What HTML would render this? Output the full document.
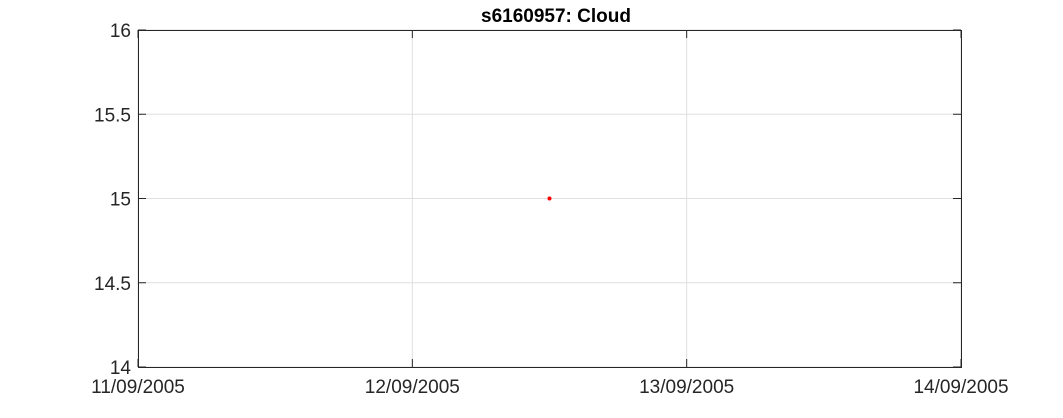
<!DOCTYPE html>
<html><head><meta charset="utf-8"><style>
html,body{margin:0;padding:0;background:#fff;}
svg text{font-family:"Liberation Sans",Arial,sans-serif;}
</style></head><body>
<svg id="chart" width="1063" height="413" xmlns="http://www.w3.org/2000/svg">
<rect width="1063" height="413" fill="#fff"/>
<text x="556" y="22" text-anchor="middle" font-size="19" font-weight="bold" fill="#000">s6160957: Cloud</text>
<g id="grid"></g>
<g id="axes"></g>
<g id="marks"></g>
</svg>
<script>
const xTickDays = [0, 1, 2, 3];
const xTickLabels = ["11/09/2005", "12/09/2005", "13/09/2005", "14/09/2005"];
const yTicks = [14, 14.5, 15, 15.5, 16];
const yTickLabels = ["14", "14.5", "15", "15.5", "16"];
const pointDays = [1.5];
const pointValues = [15];

const L = 138, R = 961, T = 30, B = 367;
const xMin = 0, xMax = 3, yMin = 14, yMax = 16;
const xs = d => L + (d - xMin) / (xMax - xMin) * (R - L);
const ys = v => B - (v - yMin) / (yMax - yMin) * (B - T);
const NS = "http://www.w3.org/2000/svg";
function mk(tag, attrs, parent) {
  const e = document.createElementNS(NS, tag);
  for (const k in attrs) e.setAttribute(k, attrs[k]);
  parent.appendChild(e);
  return e;
}
const grid = document.getElementById('grid');
const axes = document.getElementById('axes');
const marks = document.getElementById('marks');

xTickDays.forEach((d, i) => {
  const x = xs(d);
  const g = mk('line', {x1: x, x2: x, y1: T, y2: B, stroke: '#dfdfdf', 'stroke-width': 1}, grid);
  
  
  const t1 = mk('line', {x1: x, x2: x, y1: B, y2: B - 8, stroke: '#262626', 'stroke-width': 1}, axes);
  
  
  const t2 = mk('line', {x1: x, x2: x, y1: T, y2: T + 8, stroke: '#262626', 'stroke-width': 1}, axes);
  
  
  const lb = mk('text', {x: x, y: B + 26, 'text-anchor': 'middle', 'font-size': 19, fill: '#262626'}, axes);
  lb.textContent = xTickLabels[i];
  
  
});
yTicks.forEach((v, i) => {
  const y = ys(v);
  const g = mk('line', {x1: L, x2: R, y1: y, y2: y, stroke: '#dfdfdf', 'stroke-width': 1}, grid);
  
  
  const t1 = mk('line', {x1: L, x2: L + 8, y1: y, y2: y, stroke: '#262626', 'stroke-width': 1}, axes);
  
  
  const t2 = mk('line', {x1: R, x2: R - 8, y1: y, y2: y, stroke: '#262626', 'stroke-width': 1}, axes);
  
  
  const lb = mk('text', {x: L - 7, y: y + 7, 'text-anchor': 'end', 'font-size': 19, fill: '#262626'}, axes);
  lb.textContent = yTickLabels[i];
  
  
});
const box = mk('rect', {x: L + 0.5, y: T + 0.5, width: R - L, height: B - T, fill: 'none', stroke: '#262626', 'stroke-width': 1}, axes);



pointDays.forEach((d, i) => {
  const c = mk('circle', {cx: xs(d), cy: ys(pointValues[i]), r: 2, fill: '#ff0000'}, marks);
  
  
});
</script>
</body></html>
